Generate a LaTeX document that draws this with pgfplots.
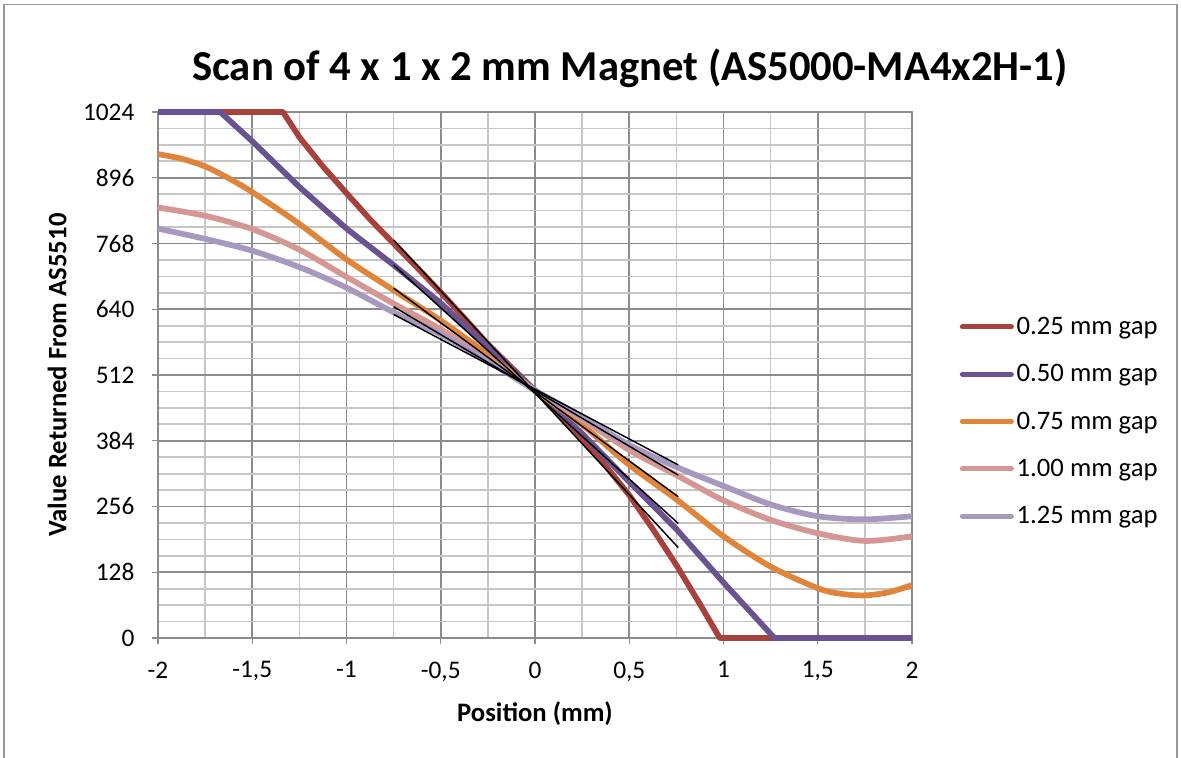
\documentclass[border=0pt]{standalone}
\usepackage{fontspec}
\setmainfont{Carlito}
\usepackage{pgfplots}
\pgfplotsset{compat=1.18}
\definecolor{cRed}{HTML}{A8403C}
\definecolor{cPur}{HTML}{6A5290}
\definecolor{cOra}{HTML}{E0843A}
\definecolor{cPnk}{HTML}{D59694}
\definecolor{cLav}{HTML}{A898BF}
\definecolor{gMaj}{HTML}{8C8C8C}
\definecolor{gMin}{HTML}{C6C6C6}
\begin{document}
\begin{tikzpicture}
\begin{scope}[x=0.75pt,y=-0.75pt]
\useasboundingbox (0,0) rectangle (1181,757);
\draw[gMaj!90, line width=1.1pt] (4,770) -- (4,4.5) -- (1177,4.5) -- (1177,770);
\node[font=\fontsize{32}{38}\selectfont\bfseries] at (630,68) {Scan of 4 x 1 x 2 mm Magnet (AS5000-MA4x2H-1)};
\node[font=\fontsize{20}{24}\selectfont\bfseries, rotate=90] at (57,375) {Value Returned From AS5510};
\node[font=\fontsize{20}{24}\selectfont\bfseries] at (535,714) {Position (mm)};
\end{scope}
\begin{axis}[
  at={(118.5pt,-478.5pt)}, anchor=south west,
  scale only axis, width=565.5pt, height=394.5pt,
  xmin=-2, xmax=2, ymin=0, ymax=1024,
  clip=false,
  axis line style={gMaj, line width=1.3pt},
  xtick={-2,-1.5,-1,-0.5,0,0.5,1,1.5,2},
  xticklabels={{-2},{-1,5},{-1},{-0,5},{0},{0,5},{1},{1,5},{2}},
  minor xtick={-1.75,-1.25,-0.75,-0.25,0.25,0.75,1.25,1.75},
  ytick={0,128,256,384,512,640,768,896,1024},
  yticklabels={0,128,256,384,512,640,768,896,1024},
  minor ytick={32,64,96,160,192,224,288,320,352,416,448,480,544,576,608,672,704,736,800,832,864,928,960,992},
  grid=both,
  major grid style={gMaj, line width=1.3pt},
  minor grid style={gMin, line width=1.3pt},
  tick align=outside, xtick pos=bottom, ytick pos=left,
  major tick length=4.5pt, minor tick length=0pt,
  tick style={gMaj, line width=1.1pt},
  ticklabel style={font=\fontsize{19}{23}\selectfont, inner sep=0pt},
  xticklabel style={anchor=north, yshift=-13pt},
  yticklabel style={anchor=east, xshift=-13pt},
  legend style={at={(1.054,0.4116)}, anchor=west, draw=none, fill=none,
    font=\fontsize{20}{24}\selectfont, row sep=21pt,
    nodes={inner sep=0pt}},
  legend cell align=left,
  legend image code/.code={\draw[#1, line width=3.6pt, line cap=round] (1.8pt,0pt) -- (38.7pt,0pt); \path (0pt,0pt) (40.5pt,0pt);},
  every axis plot/.append style={line width=4.3pt, line join=round},
]
\addplot[cRed] coordinates {(-2,1024) (-1.337,1024) (-1.25,975) (-1.125,918) (-1,866) (-0.875,815) (-0.75,768) (-0.625,721) (-0.5,673) (-0.375,623) (-0.25,572) (-0.125,527) (0,482) (0.125,436) (0.25,389) (0.375,335) (0.5,278) (0.625,212) (0.75,142) (0.875,66) (0.98,0) (2,0)};
\addlegendentry{0.25 mm gap}
\addplot[cPur] coordinates {(-2,1024) (-1.67,1024) (-1.5,967) (-1.25,878) (-1,797) (-0.75,726) (-0.5,652) (-0.25,566) (0,482) (0.25,398) (0.5,304) (0.75,212) (1,108) (1.27,0) (2,0)};
\addlegendentry{0.50 mm gap}
\addplot[cOra, smooth] coordinates {(-2,942) (-1.875,933) (-1.75,918) (-1.625,895) (-1.5,868) (-1.25,806) (-1,737) (-0.75,677) (-0.5,618) (-0.25,552) (0,482) (0.25,415) (0.5,337) (0.75,270) (1,198) (1.25,139) (1.5,97) (1.625,86) (1.75,83) (1.875,89) (2,103)};
\addlegendentry{0.75 mm gap}
\addplot[cPnk, smooth] coordinates {(-2,838) (-1.75,822) (-1.5,796) (-1.25,756) (-1,703) (-0.75,651) (-0.5,601) (-0.25,544) (0,482) (0.25,426) (0.5,366) (0.75,317) (1,268) (1.25,230) (1.5,204) (1.75,189) (2,198)};
\addlegendentry{1.00 mm gap}
\addplot[cLav, smooth] coordinates {(-2,797) (-1.75,777) (-1.5,754) (-1.25,722) (-1,682) (-0.75,634) (-0.5,591) (-0.25,539) (0,482) (0.25,431) (0.5,376) (0.75,333) (1,296) (1.25,260) (1.5,237) (1.75,231) (2,237)};
\addlegendentry{1.25 mm gap}
\addplot[black, line width=1.1pt, forget plot] coordinates {(-0.75,775) (0.76,176)};
\addplot[black, line width=1.1pt, forget plot] coordinates {(-0.75,726) (0.76,223)};
\addplot[black, line width=1.1pt, forget plot] coordinates {(-0.75,681) (0.76,275)};
\addplot[black, line width=1.1pt, forget plot] coordinates {(-0.75,645) (0.76,317)};
\addplot[black, line width=1.1pt, forget plot] coordinates {(-0.75,630) (0.76,337)};
\end{axis}
\end{tikzpicture}
\end{document}
